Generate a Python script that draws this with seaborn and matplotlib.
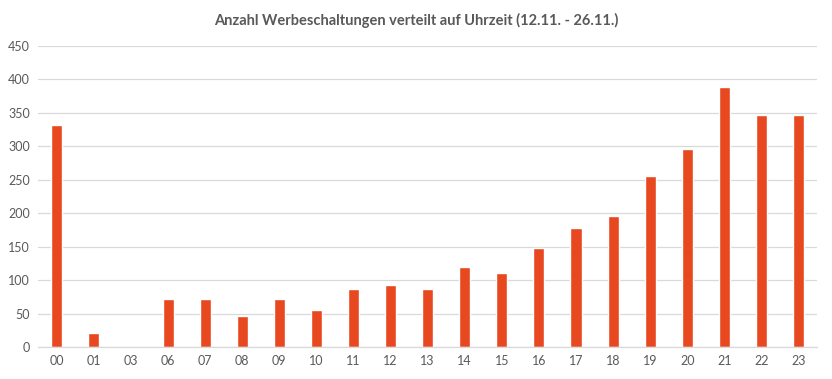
import matplotlib
matplotlib.use("Agg")
import matplotlib.pyplot as plt
import seaborn as sns
import pandas as pd

hours = ["00", "01", "03", "06", "07", "08", "09", "10", "11", "12", "13",
         "14", "15", "16", "17", "18", "19", "20", "21", "22", "23"]
counts = [332, 21, 0, 72, 72, 47, 71, 56, 86, 93, 87,
          120, 111, 148, 178, 196, 256, 296, 388, 346, 346]
yticks = [0, 50, 100, 150, 200, 250, 300, 350, 400, 450]

sns.set_theme(style="white")
plt.rcParams['font.family'] = ['Lato', 'DejaVu Sans']

df = pd.DataFrame({"hour": hours, "count": counts})

fig = plt.figure(figsize=(8.32, 3.79), dpi=100)
ax = fig.add_axes([0.046, 0.0844, 0.936, 0.7946])
sns.barplot(data=df, x="hour", y="count", color="#E8481F", width=0.3,
            saturation=1, ax=ax, order=hours)
ax.set_xlim(-0.5, len(hours) - 0.5)
ax.set_ylim(0, 450)
ax.set_yticks(yticks)
ax.grid(axis="y", color="#d9d9d9", linewidth=0.9)
ax.set_axisbelow(True)
for s in ["top", "right", "left"]:
    ax.spines[s].set_visible(False)
ax.spines["bottom"].set_color("#d9d9d9")
ax.spines["bottom"].set_linewidth(0.9)
ax.tick_params(axis="both", length=0, labelsize=9, colors="#595959", pad=6)
ax.set_xlabel("")
ax.set_ylabel("")
fig.suptitle("Anzahl Werbeschaltungen verteilt auf Uhrzeit (12.11. - 26.11.)",
             x=0.5, y=0.965, fontsize=10.5, fontweight="bold", color="#595959")
fig.savefig("out.png", dpi=100)
